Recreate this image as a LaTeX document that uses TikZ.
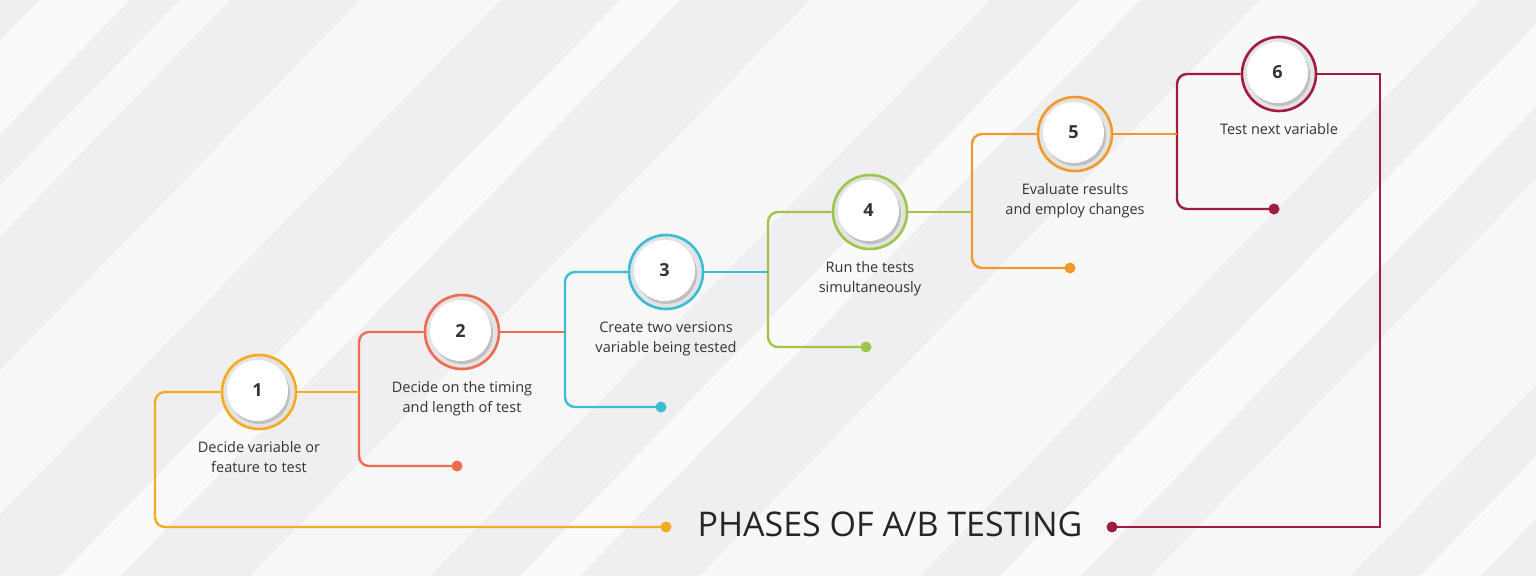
\documentclass[tikz,border=0pt]{standalone}
\usepackage{fontspec}
\setmainfont{Open Sans}
\usepackage{xcolor}
\usepackage{tikz}
\usetikzlibrary{positioning, shadows}

\definecolor{col1}{HTML}{F2AC1E}
\definecolor{col2}{HTML}{EE6B4D}
\definecolor{col3}{HTML}{3DBCD6}
\definecolor{col4}{HTML}{9DC64B}
\definecolor{col5}{HTML}{F19A2B}
\definecolor{col6}{HTML}{A01D3E}
\definecolor{bg}{HTML}{EFEFF1}
\definecolor{txt}{HTML}{333333}

\tikzset{
  ring/.style={circle, minimum size=74pt, line width=2.6pt, fill=gray!22, inner sep=0pt},
  disc/.style={circle, minimum size=61pt, fill=white, inner sep=0pt,
    drop shadow={shadow xshift=2pt, shadow yshift=-3pt, opacity=.35, fill=gray}},
  stepline/.style={line width=2.4pt, rounded corners=10pt},
  dot/.style={circle, minimum size=11pt, inner sep=0pt},
  steptext/.style={align=center, text=txt, font=\fontsize{14.5}{20}\selectfont}
}

\begin{document}
\begin{tikzpicture}[x=1pt, y=-1pt]
                % background
                \useasboundingbox (0,0) rectangle (1536,576);
                \begin{scope}
                    \clip (0,0) rectangle (1536,576);
                    \fill[bg] (0,0) rectangle (1536,576);
                    \foreach \a/\w/\o in {-520/90/.7, -380/50/.6, -200/140/.5, 60/60/.7, 250/180/.5, 520/60/.7, 700/220/.6, 1000/80/.7, 1150/200/.5, 1420/60/.7} {
                        \fill[white, opacity=\o] (\a,576) -- ++(\w,0) -- ++(560,-576) -- ++(-\w,0) -- cycle;
                    }
                \end{scope}
                % steps
                \foreach \i/\x/\y/\xl/\yb/\xd in {1/259/392/155/527/666, 2/462/332/359/466/457, 3/666/272/565/407/661, 4/870/212/768/347/866, 5/1075/134/972/268/1070, 6/1279/74/1177/209/1274} {
                    \node[ring, draw=col\i] (c\i) at (\x,\y) {};
                    \node[disc] (n\i) at ([shift={(-1.5,-1.5)}]c\i.center) {\fontsize{18}{20}\selectfont\bfseries\color{txt}\i};
                    \coordinate (j\i) at (\xl,\y);
                    \node[dot, fill=col\i] (d\i) at (\xd,\yb) {};
                    \draw[stepline, col\i] (c\i.west) -- (j\i) |- (d\i.center);
                }
                \foreach \i/\n in {1/2, 2/3, 3/4, 4/5, 5/6} {
                    \draw[stepline, col\i] (c\i.east) -- (c\i.east -| j\n);
                }
                % last step back to the title
                \coordinate (k6) at (1380,74);
                \node[dot, fill=col6] (e6) at (1112,527) {};
                \draw[line width=2.4pt, col6] (c6.east) -- (k6) |- (e6.center);
                % step texts
                \foreach \i/\txt in {1/{Decide variable or\\feature to test}, 2/{Decide on the timing\\and length of test}, 3/{Create two versions\\variable being tested}, 4/{Run the tests\\simultaneously}, 5/{Evaluate results\\and employ changes}, 6/{Test next variable}} {
                    \node[steptext, below=8pt of c\i] (t\i) {\txt};
                }
                \node[text=black!85, font=\fontsize{34}{40}\selectfont] (title) at (890,524) {PHASES OF A/B TESTING};
            \end{tikzpicture}
\end{document}
